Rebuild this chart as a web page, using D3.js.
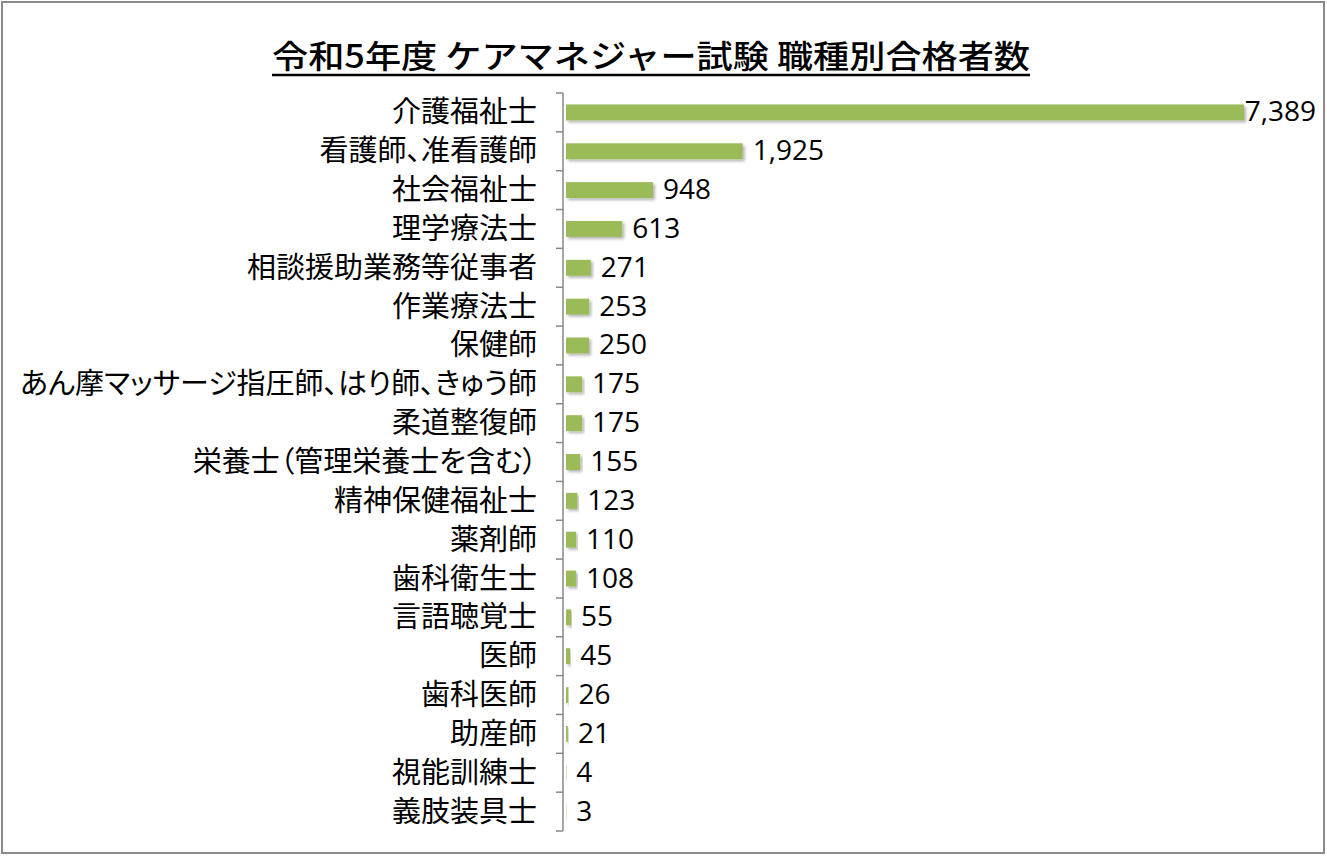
<!DOCTYPE html>
<html><head><meta charset="utf-8">
<script src="https://cdn.jsdelivr.net/npm/d3@7"></script>
<style>
html,body{margin:0;padding:0;background:#fff;}
svg{display:block;}
</style></head>
<body>
<svg id="chart" width="1327" height="856"></svg>
<script>
const titleText = "令和5年度 ケアマネジャー試験 職種別合格者数";
const categories = ["介護福祉士","看護師、准看護師","社会福祉士","理学療法士","相談援助業務等従事者","作業療法士","保健師","あん摩マッサージ指圧師、はり師、きゅう師","柔道整復師","栄養士（管理栄養士を含む）","精神保健福祉士","薬剤師","歯科衛生士","言語聴覚士","医師","歯科医師","助産師","視能訓練士","義肢装具士"];
const values = [7389,1925,948,613,271,253,250,175,175,155,123,110,108,55,45,26,21,4,3];

const svg = d3.select("#chart");
const W = 1327, H = 856;
const jp = "'Noto Sans CJK JP','Noto Sans',sans-serif";
const num = "'Open Sans','Liberation Sans',sans-serif";

// border
svg.append("rect").attr("x",2).attr("y",2).attr("width",W-5).attr("height",H-5)
  .attr("fill","#fff").attr("stroke","#8a8a8a").attr("stroke-width",2);

// shadow filter
const defs = svg.append("defs");
const f = defs.append("filter").attr("id","sh").attr("x","-5%").attr("y","-30%").attr("width","120%").attr("height","190%");
f.append("feDropShadow").attr("dx",2).attr("dy",2).attr("stdDeviation",1.5).attr("flood-color","#000").attr("flood-opacity",0.3);

// title
const title = svg.append("text").attr("x",651).attr("y",68).attr("text-anchor","middle")
  .attr("font-family",jp).attr("font-size",32).attr("font-weight",500).attr("fill","#000").text(titleText);
const tw = 758;
title.attr("textLength",tw).attr("lengthAdjust","spacingAndGlyphs");
svg.append("line").attr("x1",651-tw/2).attr("x2",651+tw/2).attr("y1",75).attr("y2",75)
  .attr("stroke","#000").attr("stroke-width",2.5);

const y = d3.scaleBand().domain(categories).range([93,831]).paddingInner(0.59).paddingOuter(0.295);
const x = d3.scaleLinear().domain([0,7389]).range([566,1244]);

// bars
svg.append("g").selectAll("rect").data(values).join("rect")
  .attr("x",x(0)).attr("y",(d,i)=>y(categories[i]))
  .attr("width",d=>x(d)-x(0)).attr("height",y.bandwidth())
  .attr("fill","#9BBB59").attr("filter","url(#sh)");

// axis
const step = (831-93)/categories.length;
const ax = svg.append("g");
ax.append("line").attr("x1",563).attr("x2",563).attr("y1",93).attr("y2",831).attr("stroke","#888").attr("stroke-width",1.5);
d3.range(categories.length+1).forEach(i=>{
  ax.append("line").attr("x1",556).attr("x2",563).attr("y1",93+i*step).attr("y2",93+i*step).attr("stroke","#888").attr("stroke-width",1.5);
});

// category labels
svg.append("g").selectAll("text").data(categories).join("text")
  .attr("x",537).attr("y",d=>y(d)+y.bandwidth()/2-3)
  .attr("text-anchor","end").attr("dominant-baseline","central")
  .attr("font-family",jp).attr("font-size",29).attr("fill","#000")
  .style("font-feature-settings","'palt'")
  .text(d=>d);

// value labels
const fmt = d3.format(",");
svg.append("g").selectAll("text").data(values).join("text")
  .attr("y",(d,i)=>y(categories[i])+y.bandwidth()/2-2)
  .attr("dominant-baseline","central")
  .attr("font-family",num).attr("font-size",28).attr("fill","#000")
  .text(d=>fmt(d))
  .each(function(d){
    const t = d3.select(this);
    const w = this.getComputedTextLength();
    let xx = x(d)+10;
    if (xx + w > 1316) xx = 1316 - w;
    t.attr("x",xx);
  });
</script>
</body></html>
